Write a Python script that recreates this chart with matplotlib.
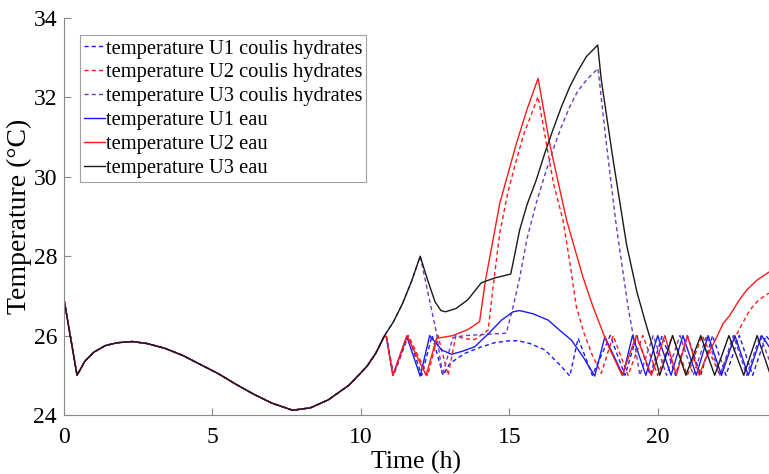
import matplotlib.pyplot as plt
import numpy as np

plt.rcParams['font.family'] = ['Liberation Serif', 'DejaVu Serif']

# shared part of every curve (0 -> 10.8 h)
t_common = [0, 0.44, 0.7, 1.0, 1.4, 1.8, 2.3, 2.8, 3.4, 4.0, 4.6, 5.2, 5.8,
            6.4, 7.0, 7.7, 8.3, 8.9, 9.6, 10.2, 10.5, 10.8]
T_common = [26.92, 25.0, 25.35, 25.58, 25.75, 25.82, 25.85, 25.8, 25.68, 25.5,
            25.27, 25.04, 24.77, 24.52, 24.3, 24.12, 24.18, 24.38, 24.75, 25.22,
            25.55, 26.0]

# U1 coulis hydrates (blue dashed)
t_u1c = [10.86, 11.1, 11.6, 12.05, 12.4, 12.77, 13.0, 13.5, 14.0, 14.5, 15.0, 15.3,
         15.7, 16.2, 16.76, 17.04, 17.32, 17.8, 18.4, 18.9, 19.3, 19.75, 20.15,
         20.6, 21.0, 21.45, 21.85, 22.3, 22.75, 23.2, 23.65, 23.8]
T_u1c = [25.97, 25.0, 26.0, 25.0, 26.0, 25.0, 25.3, 25.55, 25.7, 25.82, 25.87, 25.87,
         25.8, 25.64, 25.22, 24.98, 25.93, 25.0, 26.0, 25.0, 26.0, 25.0, 26.0,
         25.0, 26.0, 25.0, 26.0, 25.0, 26.0, 25.0, 26.0, 25.85]

# U2 coulis hydrates (red dashed)
t_u2c = [10.86, 11.1, 11.6, 12.25, 12.6, 12.94, 13.2, 13.5, 13.84, 14.29, 14.45,
         14.68, 14.95, 15.24, 15.5, 15.8, 15.97, 16.25, 16.5, 16.81, 17.05, 17.26,
         17.5, 17.8, 18.1, 18.5, 19.0, 19.5, 20.0, 20.5, 21.0, 21.5, 22.1, 22.35,
         22.6, 22.85, 23.1, 23.4, 23.75]
T_u2c = [25.97, 25.0, 26.0, 25.0, 26.0, 25.0, 26.0, 25.92, 25.9, 26.14, 27.2,
         28.58, 29.6, 30.42, 31.1, 31.68, 32.02, 30.84, 29.8, 28.91, 27.8, 26.73,
         26.1, 25.5, 25.05, 26.0, 25.0, 26.0, 25.0, 26.0, 25.0, 26.0, 25.0, 25.5,
         25.95, 26.3, 26.64, 26.9, 27.07]

# U3 coulis hydrates (purple dashed)
t_u3c = [11.1, 11.4, 11.7, 12.0, 12.55, 12.75, 13.1, 13.5, 14.2, 14.9, 15.13, 15.35,
         15.6, 15.91, 16.2, 16.47, 16.75, 17.04, 17.3, 17.6, 17.99, 18.27, 18.61,
         19.0, 19.2, 19.4, 19.85, 20.3, 20.75, 21.2, 21.65, 22.1, 22.55, 23.0,
         23.45, 23.8]
T_u3c = [26.35, 26.8, 27.35, 28.0, 26.06, 25.0, 25.95, 26.0, 26.03, 26.06, 26.73, 27.45,
         28.45, 29.34, 30.05, 30.67, 31.25, 31.77, 32.15, 32.44, 32.73, 30.84, 28.74,
         26.73, 25.9, 25.0, 26.0, 25.0, 26.0, 25.0, 26.0, 25.0, 26.0, 25.0,
         26.0, 25.3]

# U1 eau (blue solid)
t_u1 = [10.86, 11.08, 11.55, 12.0, 12.32, 12.72, 13.05, 13.4, 13.84, 14.3, 14.74,
        15.13, 15.35, 15.8, 16.31, 16.75, 17.09, 17.5, 17.88, 18.22, 18.83, 19.15,
        19.6, 20.0, 20.45, 20.85, 21.3, 21.7, 22.15, 22.6, 23.05, 23.5, 23.8]
T_u1 = [25.97, 25.0, 25.97, 24.98, 26.0, 25.64, 25.53, 25.6, 25.72, 26.05, 26.39,
        26.6, 26.63, 26.55, 26.39, 26.1, 25.89, 25.45, 24.98, 25.97, 25.0, 26.0,
        25.0, 26.0, 25.0, 26.0, 25.0, 26.0, 25.0, 26.0, 25.0, 26.0, 25.67]

# U2 eau (red solid)
t_u2 = [10.86, 11.08, 11.55, 12.2, 12.55, 13.1, 13.6, 14.0, 14.2, 14.45, 14.68, 15.24,
        15.6, 15.97, 16.36, 16.93, 17.48, 17.82, 18.3, 18.8, 19.28, 19.79, 20.24,
        20.63, 21.0, 21.4, 21.6, 21.95, 22.2, 22.42, 22.75, 23.0, 23.35, 23.75]
T_u2 = [25.97, 25.0, 26.0, 25.0, 25.93, 26.0, 26.15, 26.35, 27.4, 28.4, 29.33, 30.84,
        31.7, 32.48, 30.84, 28.91, 27.48, 26.73, 25.8, 25.0, 26.0, 25.0, 26.0,
        25.0, 26.0, 25.0, 25.4, 25.9, 26.3, 26.5, 26.9, 27.15, 27.4, 27.6]

# U3 eau (black solid)
t_u3 = [11.1, 11.4, 11.7, 12.0, 12.25, 12.5, 12.7, 12.85, 13.2, 13.6, 14.06, 14.5,
        15.05, 15.2, 15.35, 15.6, 15.91, 16.2, 16.47, 16.75, 17.04, 17.3, 17.6,
        17.98, 18.1, 18.5, 18.95, 19.3, 19.6, 19.8, 20.07, 20.5, 20.95, 21.45,
        21.92, 22.4, 22.9, 23.35, 23.8]
T_u3 = [26.35, 26.8, 27.35, 28.0, 27.4, 26.85, 26.63, 26.6, 26.68, 26.9, 27.33, 27.45,
        27.55, 28.1, 28.66, 29.3, 29.92, 30.6, 31.18, 31.75, 32.27, 32.65, 33.03,
        33.32, 32.44, 30.42, 28.3, 27.1, 26.3, 25.8, 25.0, 26.0, 25.0, 26.0,
        25.0, 26.0, 25.0, 26.0, 25.0]

labels = ['temperature U1 coulis hydrates', 'temperature U2 coulis hydrates',
          'temperature U3 coulis hydrates', 'temperature U1 eau',
          'temperature U2 eau', 'temperature U3 eau']

fig = plt.figure(figsize=(7.69, 4.74), dpi=100)
ax = fig.add_axes([0.0832, 0.1245, 0.9168, 0.8375])

series = [
    (t_u1c, T_u1c, '#1a1aff', '--'),
    (t_u2c, T_u2c, '#ff1a1a', '--'),
    (t_u3c, T_u3c, '#6a3cc0', '--'),
    (t_u1, T_u1, '#1a1aff', '-'),
    (t_u2, T_u2, '#ff1a1a', '-'),
    (t_u3, T_u3, '#1a1a1a', '-'),
]
for (t, T, c, ls), lab in zip(series, labels):
    tt = np.concatenate([t_common, t])
    TT = np.concatenate([T_common, T])
    if ls == '--':
        ax.plot(tt, TT, color=c, lw=1.0, ls=(0, (3, 2.2)), label=lab)
    else:
        ax.plot(tt, TT, color=c, lw=1.0, ls='-', label=lab)

ax.set_xlim(0, 23.75)
ax.set_ylim(24, 34)
ax.set_xticks([0, 5, 10, 15, 20])
ax.set_yticks([24, 26, 28, 30, 32, 34])
ax.spines['top'].set_visible(False)
ax.spines['right'].set_visible(False)
for s in ['left', 'bottom']:
    ax.spines[s].set_color('#8a8a8a')
ax.tick_params(direction='in', length=5, color='#8a8a8a', labelsize=17)
ax.tick_params(axis='x', pad=9)
ax.tick_params(axis='y', pad=5)
ax.set_xlabel('Time (h)', fontsize=18.5, labelpad=2)
ax.set_ylabel('Temperature (°C)', fontsize=20, labelpad=1)

leg = ax.legend(loc='upper left', bbox_to_anchor=(0.0227, 0.957), borderaxespad=0,
                fontsize=14.8, handlelength=1.0, handletextpad=0.05, labelspacing=0.22,
                borderpad=0.2, frameon=True, fancybox=False)
leg.get_frame().set_edgecolor('#8a8a8a')
leg.get_frame().set_linewidth(0.8)

fig.savefig('out.png', dpi=100)
